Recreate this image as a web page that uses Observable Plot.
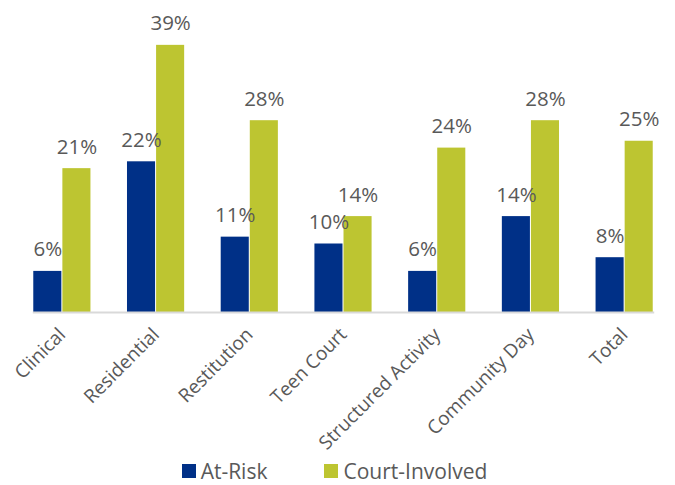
<!DOCTYPE html>
<html>
<head>
<meta charset="utf-8">
<script src="https://cdn.jsdelivr.net/npm/d3@7"></script>
<script src="https://cdn.jsdelivr.net/npm/@observablehq/plot@0.6"></script>
<style>
  html, body { margin: 0; padding: 0; background: #fff; }
  #chart { width: 675px; font-family: "Open Sans", sans-serif; }
  .legend { display: flex; justify-content: center; align-items: center; height: 22px; margin-top: 0; padding-right: 6px; font-family: "Open Sans", sans-serif; font-size: 21px; line-height: 22px; color: #595959; }
  .legend .item { display: flex; align-items: center; }
  .legend .sw { width: 14px; height: 14px; margin-right: 5px; }
  .legend .item + .item { margin-left: 57px; }
</style>
</head>
<body>
<div id="chart"></div>
<script>
const categories = ["Clinical", "Residential", "Restitution", "Teen Court", "Structured Activity", "Community Day", "Total"];
const series = ["At-Risk", "Court-Involved"];
const atRisk = [6, 22, 11, 10, 6, 14, 8];
const courtInvolved = [21, 39, 28, 14, 24, 28, 25];
const colors = ["#003087", "#BDC531"];

const data = categories.flatMap((c, i) => [
  {category: c, series: series[0], value: atRisk[i]},
  {category: c, series: series[1], value: courtInvolved[i]}
]);

const chart = Plot.plot({
  width: 675,
  height: 460,
  marginLeft: 15,
  marginRight: 4,
  marginTop: 38,
  marginBottom: 148,
  style: {fontFamily: "'Open Sans', sans-serif", fontSize: "19px", color: "#595959", background: "#fff", overflow: "visible"},
  facet: {data, x: "category"},
  fx: {domain: categories, round: false, paddingInner: 0.39, paddingOuter: 0.195, label: null, tickRotate: -45, tickSize: 0, tickPadding: 19},
  x: {domain: series, axis: null, round: false, paddingInner: 0.035, paddingOuter: 0},
  y: {domain: [0, 40], axis: null},
  color: {domain: series, range: colors},
  marks: [
    Plot.barY(data, {x: "series", y: "value", fill: "series"}),
    Plot.text(data, {x: "series", y: "value", text: d => d.value + "%", dy: -15, lineAnchor: "bottom", fontSize: 20.5, fill: "#595959"}),
    Plot.frame({anchor: "bottom", facet: "super", stroke: "#d9d9d9", strokeWidth: 2})
  ]
});
document.getElementById("chart").appendChild(chart);

const legend = document.createElement("div");
legend.className = "legend";
series.forEach((s, i) => {
  const item = document.createElement("div");
  item.className = "item";
  const sw = document.createElement("div");
  sw.className = "sw";
  sw.style.background = colors[i];
  const label = document.createElement("span");
  label.textContent = s;
  item.appendChild(sw);
  item.appendChild(label);
  legend.appendChild(item);
});
document.getElementById("chart").appendChild(legend);
</script>
</body>
</html>
